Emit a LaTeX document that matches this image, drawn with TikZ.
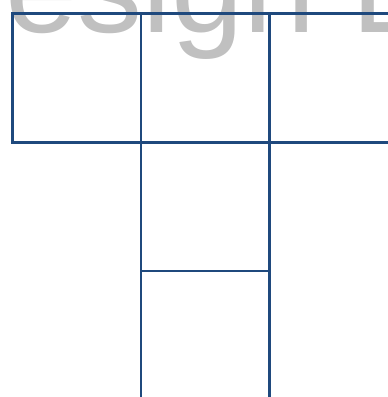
\documentclass[tikz,border=0pt]{standalone}
\usepackage{fontspec}
\setmainfont{Liberation Sans}
\definecolor{gridblue}{RGB}{31,73,125}
\definecolor{wmgrey}{RGB}{192,192,192}
\tikzset{
  cell/.style={draw=gridblue, line width=2.5pt, rectangle, minimum width=128.6pt, minimum height=128.6pt, inner sep=0pt, anchor=north west},
  bigtext/.style={text=wmgrey, inner sep=0pt, anchor=base west, font=\fontsize{130}{130}\selectfont}
}
\begin{document}
\begin{tikzpicture}[x=1pt,y=1pt]
\useasboundingbox (0,0) rectangle (388,397);
\begin{scope}
\clip (0,0) rectangle (388,397);
\node[bigtext] (title) at (5,364) {esign E};
\node[cell] (c1) at (11,384.5) {};
\node[cell] (c2) at (139.6,384.5) {};
\node[cell] (c3) at (268.2,384.5) {};
\node[cell] (c4) at (139.6,255.9) {};
\node[cell] (c5) at (139.6,127.3) {};
\end{scope}
\end{tikzpicture}
\end{document}
